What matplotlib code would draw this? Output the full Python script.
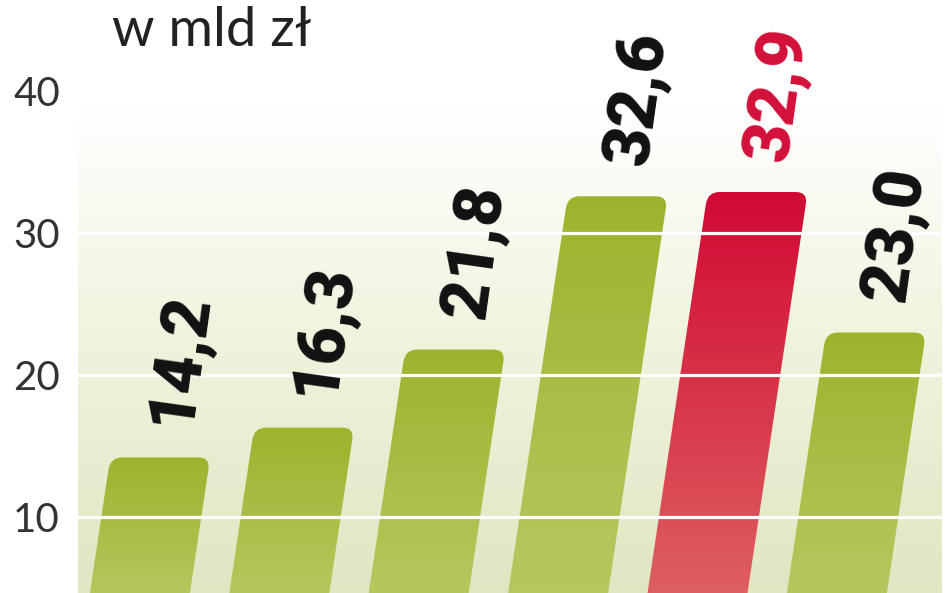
import numpy as np
import matplotlib
matplotlib.use("Agg")
import matplotlib.pyplot as plt
from matplotlib.path import Path
from matplotlib.patches import PathPatch
from matplotlib.colors import LinearSegmentedColormap

# data (w mld zł)
values = [14.2, 16.3, 21.8, 32.6, 32.9, 23.0]
labels = ["14,2", "16,3", "21,8", "32,6", "32,9", "23,0"]
highlight = [False, False, False, False, True, False]
yticks = [10, 20, 30, 40]
title = "w mld zł"

# layout / style
W, H = 948, 593
ylo, yhi = 4.65, 42.2
xlo, xhi = -0.373, 5.825
slant = 0.01528       # x shift (category units) per value unit
bar_w = 0.717
rx, ry = 12 / 139.4, 12 / 14.2

green_cm = LinearSegmentedColormap.from_list("g", ["#b8c862", "#9db32c"])
red_cm = LinearSegmentedColormap.from_list("r", ["#de6262", "#d20a33"])
bg_cm = LinearSegmentedColormap.from_list("bg", ["#e0e6c2", "#f0f3dc", "#ffffff"])

fig = plt.figure(figsize=(W / 100, H / 100), dpi=100)
ax = fig.add_axes([78 / W, 0, 864 / W, 533 / H])
ax.set_facecolor("white")

# background gradient
grad = np.linspace(0, 1, 256).reshape(-1, 1)
ax.imshow(grad, extent=[xlo, xhi, ylo, 39], origin="lower", cmap=bg_cm,
          aspect="auto", zorder=0)


def bar_path(i, v, y0):
    def left(y):
        return i + slant * y - bar_w / 2

    def right(y):
        return i + slant * y + bar_w / 2

    verts = [(left(y0), y0), (left(v - ry), v - ry),
             (left(v), v), (left(v) + rx, v),
             (right(v) - rx, v),
             (right(v), v), (right(v - ry), v - ry),
             (right(y0), y0), (left(y0), y0)]
    codes = [Path.MOVETO, Path.LINETO, Path.CURVE3, Path.CURVE3, Path.LINETO,
             Path.CURVE3, Path.CURVE3, Path.LINETO, Path.CLOSEPOLY]
    return Path(verts, codes)


for i, (v, lab, hi) in enumerate(zip(values, labels, highlight)):
    y0 = ylo - 1
    patch = PathPatch(bar_path(i, v, y0), facecolor="none", edgecolor="none")
    ax.add_patch(patch)
    g = np.linspace(0, 1, 256).reshape(-1, 1)
    im = ax.imshow(g, extent=[i + slant * y0 - 1, i + slant * v + 1, y0, v],
                   origin="lower", cmap=red_cm if hi else green_cm,
                   aspect="auto", zorder=2)
    im.set_clip_path(patch)
    ty = v + 1.9
    ax.text(i + 0.05 + slant * (ty + 4.2), ty, lab, rotation=82, ha="center",
            va="bottom", fontsize=48, fontweight="black", family="Roboto",
            color="#d3103a" if hi else "#111111", zorder=4)

# white gridlines over bars
for t in yticks[:-1]:
    ax.axhline(t, color="white", lw=2.3, zorder=3)

ax.set_xlim(xlo, xhi)
ax.set_ylim(ylo, yhi)
ax.set_xticks([])
ax.set_yticks(yticks)
ax.set_yticklabels([str(t) for t in yticks], family="Lato", fontweight="normal",
                   fontsize=29, color="#333333")
ax.tick_params(axis="y", length=0, pad=13)
for s in ax.spines.values():
    s.set_visible(False)

fig.text(112 / W, 1 - 46 / H, title, family="Lato", fontweight="normal",
         fontsize=39, color="#222222", ha="left", va="baseline")

fig.savefig("out.png", dpi=100)
